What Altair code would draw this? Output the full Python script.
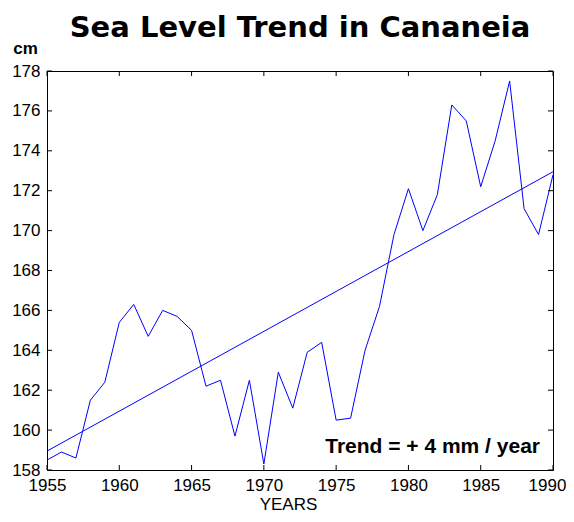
import altair as alt
import pandas as pd

# ---- data ----
years = list(range(1955, 1991))
sea_level_cm = [158.5, 158.9, 158.6, 161.5, 162.4, 165.4, 166.3, 164.7, 166.0, 165.7,
                165.0, 162.2, 162.5, 159.7, 162.5, 158.3, 162.9, 161.1, 163.9, 164.4,
                160.5, 160.6, 164.0, 166.2, 169.8, 172.1, 170.0, 171.8, 176.3, 175.5,
                172.2, 174.5, 177.5, 171.1, 169.8, 172.8]
trend_years = [1955, 1990]
trend_cm = [158.95, 172.95]
year_ticks = [1955, 1960, 1965, 1970, 1975, 1980, 1985, 1990]
cm_ticks = [158, 160, 162, 164, 166, 168, 170, 172, 174, 176, 178]
title_text = "Sea Level Trend in Cananeia"
trend_label = "Trend = + 4 mm / year"

W, H = 506, 399
FONT = "Liberation Sans"
BLUE = "#0000ff"

x_scale = alt.Scale(domain=[1955, 1990], nice=False, zero=False)
y_scale = alt.Scale(domain=[158, 178], nice=False, zero=False)

data = pd.DataFrame({"year": years, "cm": sea_level_cm})
trend = pd.DataFrame({"year": trend_years, "cm": trend_cm})
xt = pd.DataFrame({"year": year_ticks})
yt = pd.DataFrame({"cm": cm_ticks})
lab = pd.DataFrame({"label": [trend_label]})
ttl = pd.DataFrame({"label": [title_text]})

x_axis = alt.Axis(values=year_ticks, format="d", ticks=False, tickSize=0, grid=False,
                  labelFont=FONT, labelFontSize=17, labelColor="black", labelPadding=7,
                  labelFlush=False, labelOverlap=False,
                  labelOffset={"condition": {"test": "datum.value == 1990", "value": -6},
                               "value": 0},
                  title="YEARS", titleFont=FONT,
                  titleFontSize=17, titleFontWeight="normal", titleColor="black",
                  titleX=241, titleY=39, titleBaseline="alphabetic")
y_axis = alt.Axis(values=cm_ticks, format="d", ticks=False, tickSize=0, grid=False,
                  labelFont=FONT, labelFontSize=17, labelColor="black", labelPadding=7,
                  labelFlush=False, labelOverlap=False, title="cm", titleAngle=0,
                  titleFont=FONT, titleFontSize=17, titleFontWeight="bold",
                  titleColor="black", titleX=-22, titleY=-18, titleAlign="center",
                  titleBaseline="alphabetic")

X = alt.X("year:Q", scale=x_scale, axis=x_axis)
Y = alt.Y("cm:Q", scale=y_scale, axis=y_axis)

line = alt.Chart(data).mark_line(color=BLUE, strokeWidth=1).encode(x=X, y=Y)
trend_line = alt.Chart(trend).mark_line(color=BLUE, strokeWidth=1).encode(x=X, y=Y)

left_ticks = alt.Chart(yt).mark_rule(color="black", strokeWidth=1).encode(
    y=Y, x=alt.value(0), x2=alt.value(5))
right_ticks = alt.Chart(yt).mark_rule(color="black", strokeWidth=1).encode(
    y=Y, x=alt.value(W - 5), x2=alt.value(W))
bottom_ticks = alt.Chart(xt).mark_rule(color="black", strokeWidth=1).encode(
    x=X, y=alt.value(H - 5), y2=alt.value(H))
top_ticks = alt.Chart(xt).mark_rule(color="black", strokeWidth=1).encode(
    x=X, y=alt.value(0), y2=alt.value(5))

trend_text = alt.Chart(lab).mark_text(
    align="right", baseline="alphabetic", font=FONT, fontSize=21,
    fontWeight="bold", color="black"
).encode(x=alt.value(493), y=alt.value(382), text="label:N")

title_mark = alt.Chart(ttl).mark_text(
    align="center", baseline="alphabetic", font="DejaVu Sans", fontSize=29,
    fontWeight="bold", color="black"
).encode(x=alt.value(W / 2), y=alt.value(-34), text="label:N")

chart = alt.layer(
    line, trend_line, left_ticks, right_ticks, bottom_ticks, top_ticks,
    trend_text, title_mark
).properties(
    width=W, height=H,
    autosize=alt.AutoSizeParams(type="none"),
    padding={"left": 39, "top": 63, "right": 13, "bottom": 44},
).configure_view(
    stroke="black", strokeWidth=1
).configure_axis(
    domainColor="black", domainWidth=1, labelOverlap=False
)

chart.save("out.html", embed_options={"renderer": "svg", "actions": False})
